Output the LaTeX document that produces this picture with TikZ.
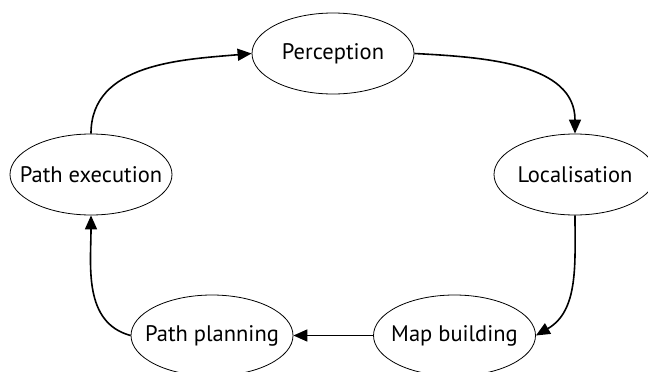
\documentclass[tikz,border=0pt]{standalone}
\usepackage{fontspec}
\setmainfont{PT Sans}
\usetikzlibrary{arrows.meta,shapes.geometric}
\newcommand{\zw}[1]{\makebox[0pt]{#1}}
\begin{document}
\begin{tikzpicture}[x=1pt,y=-1pt,
  stage/.style={ellipse,draw,line width=0.8pt,minimum width=162pt,minimum height=81pt,inner sep=0pt,font=\fontsize{22.5}{26}\selectfont},
  flow/.style={line width=1.6pt,-{Triangle[length=14pt,width=12pt]}}]
\useasboundingbox (0,0) rectangle (648,372);
\node[stage] (per) at (333,53.5) {\zw{Perception}};
\node[stage] (loc) at (575,174.5) {\zw{Localisation}};
\node[stage] (pe) at (91,174.5) {\zw{Path execution}};
\node[stage] (mb) at (454.5,335.5) {\zw{Map building}};
\node[stage] (pp) at (212,335.5) {\zw{Path planning}};
\draw[flow] (pe.north) to[out=90,in=185] (per.west);
\draw[flow] (per.east) to[out=-3,in=90] (loc.north);
\draw[flow] (loc.south) to[out=-90,in=30] (mb.east);
\draw[flow] (mb.west) -- (pp.east);
\draw[flow] (pp.west) to[out=165,in=-90] (pe.south);
\end{tikzpicture}
\end{document}
